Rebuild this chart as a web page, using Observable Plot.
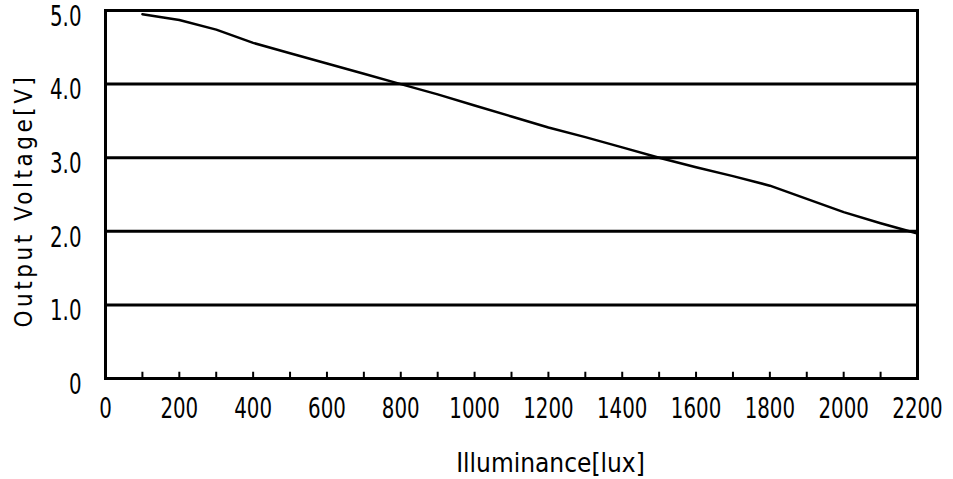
<!DOCTYPE html>
<html>
<head>
<meta charset="utf-8">
<script src="https://cdn.jsdelivr.net/npm/d3@7"></script>
<script src="https://cdn.jsdelivr.net/npm/@observablehq/plot@0.6"></script>
<style>
  html, body { margin: 0; padding: 0; background: #fff; }
  #chart svg { display: block; }
  #chart text { font-family: "DejaVu Sans Condensed", "DejaVu Sans", sans-serif; fill: #000; }
</style>
</head>
<body>
<div id="chart"></div>
<script>
// Data
const illuminance = [100, 200, 300, 400, 500, 600, 700, 800, 900, 1000, 1100, 1200, 1300, 1400, 1500, 1600, 1700, 1800, 1900, 2000, 2100, 2200];
const voltage     = [4.95, 4.87, 4.74, 4.56, 4.42, 4.28, 4.14, 4.00, 3.86, 3.71, 3.56, 3.41, 3.28, 3.14, 3.00, 2.87, 2.75, 2.62, 2.44, 2.26, 2.11, 1.97];
const xTickLabels = [0, 200, 400, 600, 800, 1000, 1200, 1400, 1600, 1800, 2000, 2200];
const xMinorTicks = [100, 200, 300, 400, 500, 600, 700, 800, 900, 1000, 1100, 1200, 1300, 1400, 1500, 1600, 1700, 1800, 1900, 2000, 2100];
const yTickLabels = [0, 1, 2, 3, 4, 5];
const yGrid = [1, 2, 3, 4];
const xTitle = "Illuminance[lux]";
const yTitle = "Output Voltage[V]";

const data = illuminance.map((x, i) => ({x, v: voltage[i]}));

const chart = Plot.plot({
  width: 953,
  height: 479,
  marginTop: 10,
  marginBottom: 101,
  marginLeft: 105,
  marginRight: 36,
  style: {fontSize: "28px", background: "#fff"},
  x: {domain: [0, 2200]},
  y: {domain: [0, 5]},
  marks: [
    Plot.ruleY(yGrid, {stroke: "#000", strokeWidth: 3}),
    Plot.ruleX(xMinorTicks, {y1: 0, y2: 0.085, stroke: "#000", strokeWidth: 2}),
    Plot.frame({stroke: "#000", strokeWidth: 3}),
    Plot.line(data, {x: "x", y: "v", stroke: "#000", strokeWidth: 2.5}),
    Plot.axisX({ticks: xTickLabels, tickSize: 0, tickPadding: 19, label: null, fontSize: 29, tickFormat: d => String(d)}),
    Plot.axisY({ticks: yTickLabels, tickSize: 0, tickPadding: 24, dy: 6, label: null, fontSize: 29, tickFormat: d => d === 0 ? "0" : d.toFixed(1)}),
    Plot.text([xTitle], {frameAnchor: "bottom", dy: 93, dx: 39, fontSize: 26, text: d => d}),
    Plot.text([yTitle], {frameAnchor: "left", textAnchor: "middle", dx: -81, dy: 6, rotate: -90, fontSize: 24, text: d => d})
  ]
});
// narrow the tick-label glyphs to mimic the technical condensed lettering
d3.select(chart).selectAll('g[aria-label="x-axis tick label"] text, g[aria-label="y-axis tick label"] text')
  .attr("transform", function() { return (this.getAttribute("transform") || "") + " scale(0.76,1)"; });
d3.select(chart).selectAll("text").filter(function() { return this.textContent === yTitle; })
  .style("letter-spacing", "3.5px");
document.getElementById("chart").appendChild(chart);
</script>
</body>
</html>
